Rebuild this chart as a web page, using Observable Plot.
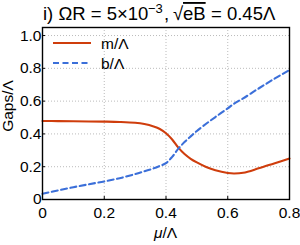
<!DOCTYPE html>
<html><head><meta charset="utf-8">
<script src="https://cdn.jsdelivr.net/npm/d3@7"></script>
<script src="https://cdn.jsdelivr.net/npm/@observablehq/plot@0.6"></script>
<style>
body{margin:0;background:#fff;}
svg{font-family:"Liberation Sans",Arial,sans-serif;}
</style></head>
<body><div id="chart"></div>
<script>
const mu = [0,0.05,0.1,0.15,0.2,0.25,0.3,0.33,0.36,0.38,0.4,0.42,0.44,0.46,0.48,0.5,0.53,0.56,0.6,0.62,0.65,0.7,0.75,0.8];
const mGap = [0.479,0.478,0.477,0.476,0.475,0.473,0.468,0.46,0.445,0.43,0.404,0.366,0.316,0.277,0.248,0.226,0.198,0.178,0.162,0.159,0.163,0.19,0.22,0.25];
const bGap = [0.035,0.055,0.075,0.093,0.11,0.13,0.155,0.172,0.19,0.205,0.222,0.26,0.31,0.35,0.385,0.418,0.462,0.503,0.556,0.584,0.617,0.677,0.735,0.79];
const xTicks = [0,0.2,0.4,0.6,0.8];
const yTicks = [0,0.2,0.4,0.6,0.8,1.0];
const yTickLabels = ["0","0.2","0.4","0.6","0.8","1.0"];
const xTickLabels = ["0","0.2","0.4","0.6","0.8"];
const series = [
  {key:"m", label:"m/Λ", values:mGap, color:"#cf3d0c", dash:null},
  {key:"b", label:"b/Λ", values:bGap, color:"#3b6fd9", dash:"6,3.5"}
];
const rows = series.flatMap(s => mu.map((x,i)=>({mu:x, v:s.values[i], key:s.key})));

const W=300,H=245, ML=42, MR=11, MT=27, MB=46;
const FS = 15.5;
const plot = Plot.plot({
  width:W, height:H, marginLeft:ML, marginRight:MR, marginTop:MT, marginBottom:MB,
  style:{fontFamily:"Liberation Sans, Arial, sans-serif", background:"#fff", color:"#000"},
  x:{domain:[0,0.8]},
  y:{domain:[0,1.049]},
  marks:[
    Plot.gridX(xTicks.slice(1,-1), {stroke:"#bbb", strokeOpacity:1, strokeDasharray:"1,2"}),
    Plot.gridY(yTicks.slice(1), {stroke:"#bbb", strokeOpacity:1, strokeDasharray:"1,2"}),
    ...series.map(s => Plot.line(rows.filter(r=>r.key===s.key), {x:"mu", y:"v", stroke:s.color, strokeWidth:2.1, strokeDasharray:s.dash, curve:"catmull-rom"})),
    Plot.axisX(xTicks, {tickSize:-3, tickPadding:10, fontSize:FS, tickFormat:(d,i)=>xTickLabels[i], label:null}),
    Plot.axisY(yTicks, {tickSize:-3, tickPadding:4, fontSize:FS, tickFormat:(d,i)=>yTickLabels[i], label:null}),
    Plot.frame({stroke:"#000", strokeWidth:1.4})
  ]
});
document.getElementById("chart").append(plot);
const svg = d3.select(plot);
// Title
const t = svg.append("text").attr("y",20).attr("text-anchor","start").attr("font-size","18.5px").attr("fill","#000");
t.append("tspan").attr("x",43).text("i) ΩR = 5×10");
t.append("tspan").attr("x",148).attr("dy",-7).attr("font-size","13px").text("−3");
t.append("tspan").attr("x",164).attr("dy",7).text(",");
t.append("tspan").attr("x",173).text("√");
t.append("tspan").attr("x",183).style("text-decoration","overline").text("eB");
t.append("tspan").attr("x",211).text("= 0.45Λ");
// Axis labels
svg.append("text").attr("transform",`translate(13,106) rotate(-90)`).attr("text-anchor","middle").attr("font-size",FS+"px").text("Gaps/Λ");
const xl = svg.append("text").attr("x",(ML+W-MR)/2).attr("y",238).attr("text-anchor","middle").attr("font-size",FS+"px");
xl.append("tspan").text("μ").style("font-style","italic");
xl.append("tspan").text("/Λ");
// Legend
series.forEach((s,i)=>{
  const y = 43 + i*20;
  svg.append("line").attr("x1",53).attr("x2",91).attr("y1",y).attr("y2",y).attr("stroke",s.color).attr("stroke-width",2.1).attr("stroke-dasharray",s.dash);
  svg.append("text").attr("x",101).attr("y",y+5.5).attr("text-anchor","start").attr("font-size",FS+"px").text(s.label);
});
</script></body></html>
